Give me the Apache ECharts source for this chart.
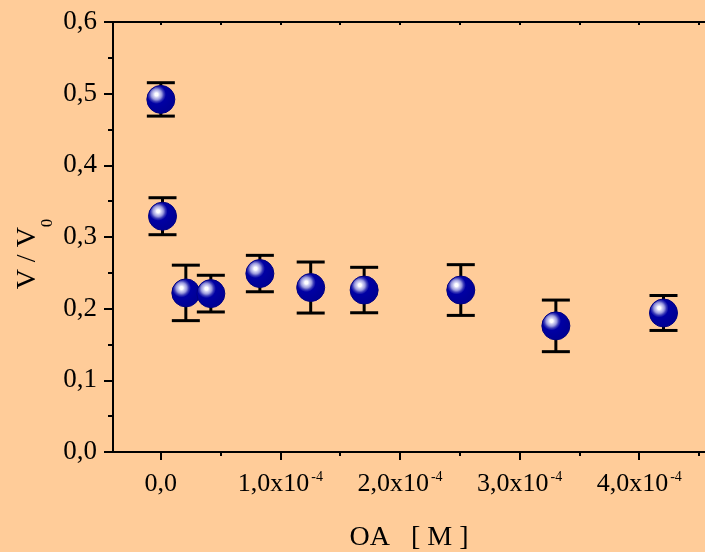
<!DOCTYPE html>
<html>
<head>
<meta charset="utf-8">
<script src="https://cdn.jsdelivr.net/npm/echarts@6/dist/echarts.min.js"></script>
<style>
    html, body { margin: 0; padding: 0; background: #FFCC99; }
    #main { width: 705px; height: 552px; }
</style>
</head>
<body>
<div id="main"></div>
<script>
    // OA concentration in units of 1e-4 M
    var xVals = [0, 0.014, 0.209, 0.418, 0.828, 1.253, 1.70, 2.508, 3.303, 4.203];
    // V / V0
    var yVals = [0.492, 0.329, 0.222, 0.221, 0.249, 0.2295, 0.226, 0.226, 0.176, 0.194];
    // error (+/-)
    var yErr = [0.0233, 0.0258, 0.0387, 0.0256, 0.0254, 0.0356, 0.0317, 0.0354, 0.036, 0.0244];

    var xTicks = [0, 1, 2, 3, 4];
    var xMinorTicks = [0.5, 1.5, 2.5, 3.5, 4.5];
    var xTopTicks = [0, 0.5, 1, 1.5, 2, 2.5, 3, 3.5, 4, 4.5];

    var myChart = echarts.init(document.getElementById('main'));

    var pts = [];
    var bars = [];
    for (var i = 0; i < xVals.length; i++) {
        pts.push([xVals[i], yVals[i]]);
        bars.push([xVals[i], yVals[i], yErr[i]]);
    }

    var font = 'Liberation Serif';
    var axisColor = '#000';

    // 球形标记的渐变
    var sphere = {
        type: 'radial',
        x: 0.35, y: 0.33, r: 0.6,
        colorStops: [
            { offset: 0, color: '#ffffff' },
            { offset: 0.09, color: '#ffffff' },
            { offset: 0.16, color: '#d8d8f6' },
            { offset: 0.3, color: '#9a9adc' },
            { offset: 0.42, color: '#3c3cb8' },
            { offset: 0.54, color: '#0000a4' },
            { offset: 1, color: '#000096' }
        ]
    };

    var option = {
        backgroundColor: '#FFCC99',
        animation: false,
        grid: {
            left: 113,
            right: 0,
            top: 22,
            bottom: 100,
            outerBoundsMode: 'none',
            containLabel: false
        },
        xAxis: [{
            type: 'value',
            position: 'bottom',
            min: -0.4,
            max: 4.55,
            name: 'OA   [ M ]',
            nameLocation: 'middle',
            nameGap: 72,
            nameMoveOverlap: false,
            nameTextStyle: { fontFamily: font, fontSize: 28, color: '#000' },
            axisLine: { show: true, onZero: false, lineStyle: { color: axisColor, width: 2 } },
            axisTick: { show: true, customValues: xTicks, length: 8, lineStyle: { color: axisColor, width: 2 } },
            splitLine: { show: false },
            axisLabel: {
                customValues: xTicks,
                margin: 18,
                formatter: function (v) {
                    if (v === 0) return '{m|0,0}';
                    return '{m|' + v + ',0x10}{s|-4}';
                },
                rich: {
                    m: { fontFamily: font, fontSize: 26, color: '#000', lineHeight: 27, verticalAlign: 'bottom' },
                    s: { fontFamily: font, fontSize: 14, color: '#000', verticalAlign: 'top', padding: [0, 0, 0, 2] }
                }
            }
        }, {
            type: 'value',
            position: 'bottom',
            min: -0.4,
            max: 4.55,
            axisLine: { show: false },
            axisTick: { show: true, customValues: xMinorTicks, length: 4, lineStyle: { color: axisColor, width: 2 } },
            axisLabel: { show: false },
            splitLine: { show: false }
        }, {
            type: 'value',
            position: 'top',
            min: -0.4,
            max: 4.55,
            axisLine: { show: true, onZero: false, lineStyle: { color: axisColor, width: 2 } },
            axisTick: { show: true, inside: true, customValues: xTopTicks, length: 3, lineStyle: { color: axisColor, width: 2 } },
            axisLabel: { show: false },
            splitLine: { show: false }
        }],
        yAxis: [{
            type: 'value',
            position: 'left',
            min: 0,
            max: 0.6,
            interval: 0.1,
            name: '{v|V / V}{sub|0}',
            nameLocation: 'middle',
            nameRotate: 90,
            nameGap: 57,
            nameMoveOverlap: false,
            nameTextStyle: {
                padding: [0, 34, 0, 0],
                rich: {
                    v: { fontFamily: font, fontSize: 28, color: '#000', verticalAlign: 'top' },
                    sub: { fontFamily: font, fontSize: 17, color: '#000', lineHeight: 42, verticalAlign: 'bottom' }
                }
            },
            axisLine: { show: true, onZero: false, lineStyle: { color: axisColor, width: 2 } },
            axisTick: { show: true, length: 9, lineStyle: { color: axisColor, width: 2 } },
            minorTick: { show: true, splitNumber: 2, length: 5, lineStyle: { color: axisColor, width: 2 } },
            splitLine: { show: false },
            axisLabel: {
                margin: 16,
                fontFamily: font,
                fontSize: 27,
                color: '#000',
                formatter: function (v) {
                    return v.toFixed(1).replace('.', ',');
                }
            }
        }],
        series: [{
            name: 'err',
            type: 'custom',
            xAxisIndex: 0,
            yAxisIndex: 0,
            z: 2,
            data: bars,
            renderItem: function (params, api) {
                var x = api.value(0), y = api.value(1), e = api.value(2);
                var top = api.coord([x, y + e]);
                var bot = api.coord([x, y - e]);
                var half = 14;
                var st = { stroke: '#000', lineWidth: 3 };
                return {
                    type: 'group',
                    children: [
                        { type: 'line', shape: { x1: top[0], y1: top[1], x2: bot[0], y2: bot[1] }, style: st },
                        { type: 'line', shape: { x1: top[0] - half, y1: top[1], x2: top[0] + half, y2: top[1] }, style: st },
                        { type: 'line', shape: { x1: bot[0] - half, y1: bot[1], x2: bot[0] + half, y2: bot[1] }, style: st }
                    ]
                };
            }
        }, {
            name: 'V/V0',
            type: 'scatter',
            xAxisIndex: 0,
            yAxisIndex: 0,
            z: 3,
            symbol: 'circle',
            symbolSize: 28,
            data: pts,
            itemStyle: {
                color: sphere,
                borderColor: '#000080',
                borderWidth: 1,
                opacity: 1
            }
        }]
    };

    myChart.setOption(option);
</script>
</body>
</html>
